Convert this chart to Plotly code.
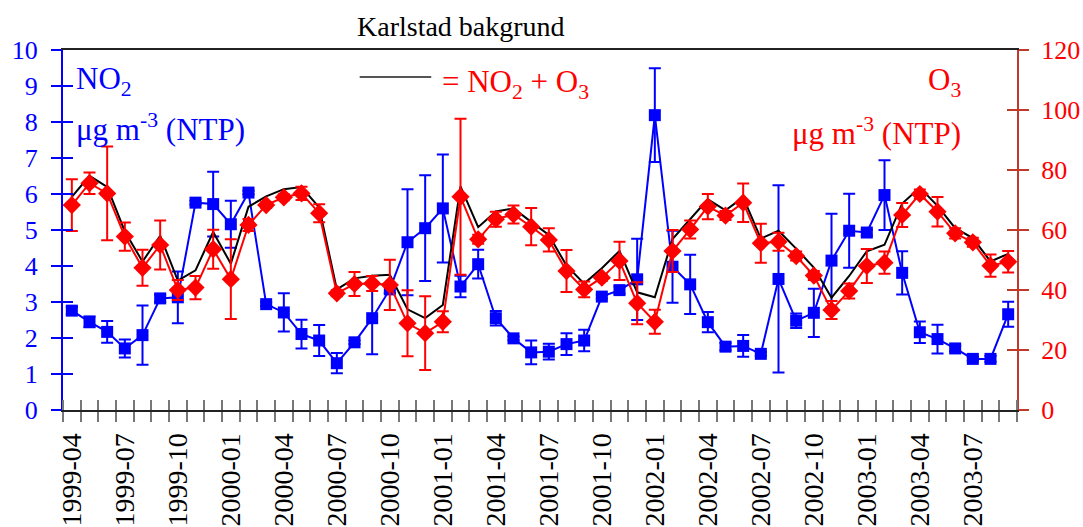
import pandas as pd
import plotly.graph_objects as go

# Monthly means, Karlstad background station, 1999-04 .. 2003-09
months = [p.strftime("%Y-%m") for p in pd.period_range("1999-04", "2003-09", freq="M")]

no2 = [2.76, 2.45, 2.17, 1.71, 2.08, 3.10, 3.13, 5.76, 5.72, 5.16,
       6.04, 2.94, 2.71, 2.11, 1.93, 1.30, 1.88, 2.55, 3.35, 4.66,
       5.05, 5.60, 3.43, 4.05, 2.55, 1.99, 1.60, 1.62, 1.83, 1.93,
       3.15, 3.33, 3.63, 8.19, 3.98, 3.49, 2.44, 1.76, 1.78, 1.56,
       3.64, 2.48, 2.70, 4.15, 4.98, 4.93, 5.97, 3.81, 2.16, 1.97,
       1.71, 1.42, 1.42, 2.66]
no2_err = [0.10, 0.15, 0.30, 0.25, 0.82, 0.10, 0.72, 0.05, 0.90, 0.65,
           0.05, 0.05, 0.53, 0.40, 0.43, 0.28, 0.05, 1.00, 0.10, 1.47,
           1.47, 1.50, 0.30, 0.40, 0.20, 0.05, 0.33, 0.22, 0.30, 0.30,
           0.05, 0.10, 1.13, 1.30, 1.00, 0.82, 0.28, 0.10, 0.30, 0.05,
           2.60, 0.20, 0.67, 1.30, 1.03, 0.08, 0.97, 0.60, 0.30, 0.40,
           0.08, 0.05, 0.08, 0.35]

o3 = [68.3, 75.6, 72.2, 57.8, 47.4, 55.0, 40.0, 40.8, 53.6, 43.6,
      61.7, 68.3, 70.9, 72.2, 65.6, 38.9, 42.0, 42.2, 41.7, 28.9,
      25.6, 29.4, 71.1, 56.9, 63.6, 65.2, 61.1, 56.7, 46.3, 40.2,
      44.1, 49.7, 35.6, 29.4, 53.0, 60.2, 67.8, 64.8, 69.1, 55.6,
      56.1, 51.3, 44.8, 33.3, 39.7, 48.0, 49.1, 65.0, 72.0, 66.1,
      58.9, 55.9, 48.1, 49.4]
o3_err = [8.6, 3.6, 15.6, 4.7, 6.0, 8.2, 3.3, 3.9, 6.5, 13.3,
          2.0, 1.0, 1.0, 2.2, 3.0, 1.0, 4.0, 2.5, 8.4, 11.0,
          12.3, 3.5, 26.0, 1.5, 2.5, 3.0, 6.2, 3.9, 7.0, 2.6,
          1.0, 6.4, 7.0, 4.0, 7.0, 3.0, 4.2, 1.5, 6.4, 6.5,
          3.0, 1.5, 1.5, 3.0, 2.5, 5.7, 3.7, 4.0, 1.5, 4.9,
          1.7, 1.5, 3.7, 3.6]

# Oxidant sum, drawn as the black line
ox_sum = [a + b for a, b in zip(no2, o3)]

idx = list(range(len(months)))
tick_idx = idx[::3]
tick_text = [months[i] for i in tick_idx]

BLUE = "#0000ff"
RED = "#ff0000"
RAXIS = "#c0392b"
SERIF = "Liberation Serif, Times New Roman, Times, serif"

fig = go.Figure()

fig.add_trace(go.Scatter(
    x=idx, y=ox_sum, mode="lines", yaxis="y2",
    line=dict(color="black", width=2), showlegend=False))

fig.add_trace(go.Scatter(
    x=idx, y=no2, mode="lines+markers", yaxis="y",
    line=dict(color=BLUE, width=2),
    marker=dict(symbol="square", size=12, color=BLUE),
    error_y=dict(type="data", array=no2_err, color=BLUE, thickness=2, width=6),
    showlegend=False))

fig.add_trace(go.Scatter(
    x=idx, y=o3, mode="lines+markers", yaxis="y2",
    line=dict(color=RED, width=2),
    marker=dict(symbol="diamond", size=14, color=RED),
    error_y=dict(type="data", array=o3_err, color=RED, thickness=2, width=6),
    showlegend=False))

# empty traces that carry the inner tick overlays
fig.add_trace(go.Scatter(x=[], y=[], xaxis="x2", yaxis="y3", showlegend=False, hoverinfo="skip"))
fig.add_trace(go.Scatter(x=[], y=[], xaxis="x2", yaxis="y4", showlegend=False, hoverinfo="skip"))

xr = [-0.5, 53.5]
minor_out = dict(tick0=-0.5, dtick=1, ticks="outside", ticklen=10, tickwidth=2, tickcolor="#777777")
minor_in = dict(tick0=-0.5, dtick=1, ticks="inside", ticklen=10, tickwidth=2, tickcolor="#777777")

fig.update_layout(
    width=1083, height=527,
    margin=dict(l=63, r=66, t=50, b=117),
    paper_bgcolor="white", plot_bgcolor="white",
    font=dict(family=SERIF),
    xaxis=dict(
        range=xr, showgrid=False, zeroline=False, automargin=False,
        showline=True, linecolor="#222222", linewidth=2, mirror=True,
        tickmode="array", tickvals=tick_idx, ticktext=tick_text,
        tickangle=-90, ticks="outside", ticklen=10, tickcolor="rgba(0,0,0,0)",
        ticklabelstandoff=0,
        tickfont=dict(family=SERIF, size=28, color="black"),
        minor=minor_out),
    xaxis2=dict(
        range=xr, overlaying="x", anchor="y", showgrid=False, zeroline=False,
        showline=False, showticklabels=False, automargin=False,
        tickmode="array", tickvals=tick_idx, ticks="",
        minor=minor_in),
    yaxis=dict(
        range=[0, 10], dtick=1, showgrid=False, zeroline=False, automargin=False,
        showline=True, linecolor=BLUE, linewidth=2,
        ticks="outside", ticklen=10, tickwidth=2, tickcolor=BLUE,
        ticklabelstandoff=8,
        tickfont=dict(family=SERIF, size=26, color=BLUE)),
    yaxis2=dict(
        range=[0, 120], dtick=20, overlaying="y", side="right", anchor="x",
        showgrid=False, zeroline=False, automargin=False,
        showline=True, linecolor=RAXIS, linewidth=2,
        ticks="outside", ticklen=10, tickwidth=2, tickcolor=RAXIS,
        ticklabelstandoff=7,
        tickfont=dict(family=SERIF, size=26, color=RED)),
    yaxis3=dict(
        range=[0, 10], dtick=1, overlaying="y", side="left", anchor="x",
        showgrid=False, zeroline=False, showline=False, showticklabels=False,
        automargin=False,
        ticks="inside", ticklen=10, tickwidth=2, tickcolor=BLUE),
    yaxis4=dict(
        range=[0, 120], dtick=20, overlaying="y", side="right", anchor="x",
        showgrid=False, zeroline=False, showline=False, showticklabels=False,
        automargin=False,
        ticks="inside", ticklen=10, tickwidth=2, tickcolor=RAXIS),
)

ann_font = 31
fig.add_annotation(text="Karlstad bakgrund", xref="paper", yref="paper",
                   x=0.417, y=1.065, xanchor="center", yanchor="middle",
                   showarrow=False, font=dict(family=SERIF, size=28, color="black"))
fig.add_annotation(text="NO<sub>2</sub>", xref="paper", yref="paper",
                   x=0.012, y=0.915, xanchor="left", yanchor="middle",
                   showarrow=False, font=dict(family=SERIF, size=ann_font, color=BLUE))
fig.add_annotation(text="μg m<sup>-3</sup> (NTP)", xref="paper", yref="paper",
                   x=0.012, y=0.785, xanchor="left", yanchor="middle",
                   showarrow=False, font=dict(family=SERIF, size=ann_font, color=BLUE))
fig.add_annotation(text="O<sub>3</sub>", xref="paper", yref="paper",
                   x=0.943, y=0.91, xanchor="right", yanchor="middle",
                   showarrow=False, font=dict(family=SERIF, size=ann_font, color=RED))
fig.add_annotation(text="μg m<sup>-3</sup> (NTP)", xref="paper", yref="paper",
                   x=0.943, y=0.775, xanchor="right", yanchor="middle",
                   showarrow=False, font=dict(family=SERIF, size=ann_font, color=RED))
fig.add_annotation(text="= NO<sub>2</sub> + O<sub>3</sub>", xref="paper", yref="paper",
                   x=0.395, y=0.905, xanchor="left", yanchor="middle",
                   showarrow=False, font=dict(family=SERIF, size=ann_font, color=RED))
# key line for the sum series
fig.add_shape(type="line", xref="paper", yref="paper",
              x0=0.311, x1=0.386, y0=0.925, y1=0.925,
              line=dict(color="#555555", width=2))

fig.write_html("out.html")
